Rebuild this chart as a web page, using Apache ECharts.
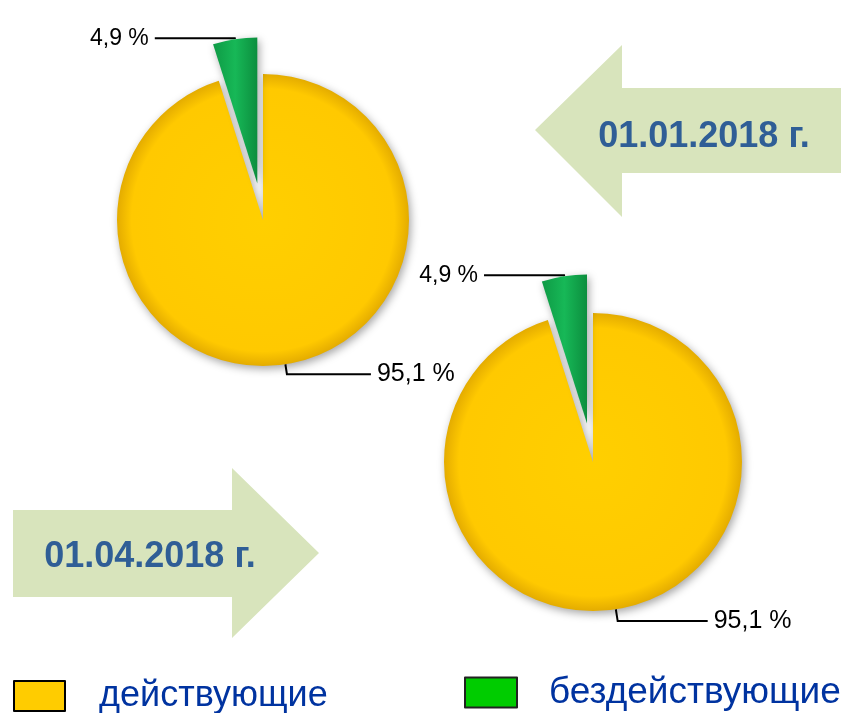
<!DOCTYPE html>
<html>
<head>
<meta charset="utf-8">
<script src="https://cdn.jsdelivr.net/npm/echarts@6/dist/echarts.min.js"></script>
<style>
  html, body { margin: 0; padding: 0; background: #fff; }
  #pieChart { width: 845px; height: 713px; }
</style>
</head>
<body>
<div id="pieChart"></div>
<script>
// категории и доли (%)
const categories = ['действующие', 'бездействующие']
const shareJan = [95.1, 4.9]   // 01.01.2018
const shareApr = [95.1, 4.9]   // 01.04.2018
const dateLabels = ['01.01.2018 г.', '01.04.2018 г.']

const sliceColors = [
  new echarts.graphic.RadialGradient(0.5, 0.5, 0.5, [
    { offset: 0, color: '#FFCF00' },
    { offset: 0.9, color: '#FFC900' },
    { offset: 1, color: '#E4AC00' }
  ]),
  new echarts.graphic.LinearGradient(0, 0, 1, 0, [
    { offset: 0, color: '#0E9A45' },
    { offset: 0.5, color: '#17B857' },
    { offset: 1, color: '#0C8E3E' }
  ])
]
const legendColors = ['#FFCC00', '#00CC00']

const fmt = v => v.toFixed(1).replace('.', ',') + ' %'

// собрать данные для одного пирога
const buildData = (values, lineLen, lineLen2) => values.map((v, i) => ({
  name: categories[i],
  value: v,
  selected: i === 1,
  itemStyle: { color: sliceColors[i] },
  label: { fontSize: i === 1 ? 23 : 25 },
  labelLine: i === 1 ? { length: 1, length2: 80 } : { length: lineLen, length2: lineLen2 }
}))

const pieBase = {
  type: 'pie',
  startAngle: 90,
  clockwise: true,
  selectedMode: 'single',
  avoidLabelOverlap: false,
  emphasis: { disabled: true },
  itemStyle: {
    borderWidth: 0,
    shadowBlur: 8,
    shadowColor: 'rgba(0,0,0,0.35)',
    shadowOffsetX: 2,
    shadowOffsetY: 3
  },
  label: {
    show: true,
    position: 'outside',
    color: '#000',
    fontFamily: 'Liberation Sans',
    formatter: p => fmt(p.value),
    distanceToLabelLine: 6
  },
  labelLine: {
    show: true,
    lineStyle: { color: '#000', width: 2 }
  }
}

const chart = echarts.init(document.getElementById('pieChart'))

const arrowStyle = { fill: '#D8E4BC' }
const dateText = {
  fill: '#2F5E96',
  fontSize: 36,
  fontWeight: 'bold',
  fontFamily: 'Liberation Sans',
  align: 'center',
  verticalAlign: 'middle'
}

const option = {
  animation: false,
  graphic: [
    {
      type: 'polygon',
      shape: { points: [[535, 130], [622, 45], [622, 88], [841, 88], [841, 173], [622, 173], [622, 217]] },
      style: arrowStyle,
      z: 0
    },
    { type: 'text', x: 704, y: 137, style: Object.assign({ text: dateLabels[0] }, dateText), z: 1 },
    {
      type: 'polygon',
      shape: { points: [[13, 510], [232, 510], [232, 468], [319, 553], [232, 638], [232, 597], [13, 597]] },
      style: arrowStyle,
      z: 0
    },
    { type: 'text', x: 150, y: 557, style: Object.assign({ text: dateLabels[1] }, dateText), z: 1 }
  ],
  legend: [
    {
      left: 13,
      top: 678,
      padding: 0,
      data: [{ name: categories[0], itemStyle: { color: legendColors[0] } }],
      icon: 'rect',
      itemWidth: 51,
      itemHeight: 30,
      itemStyle: { borderColor: '#000', borderWidth: 2, shadowBlur: 0 },
      textStyle: { color: '#0033A0', fontSize: 36, fontFamily: 'Liberation Sans', padding: [20, 0, 0, 29] },
      selectedMode: false
    },
    {
      left: 464,
      top: 674,
      padding: 0,
      data: [{ name: categories[1], itemStyle: { color: legendColors[1] } }],
      icon: 'rect',
      itemWidth: 52,
      itemHeight: 30,
      itemStyle: { borderColor: '#222', borderWidth: 2, shadowBlur: 0 },
      textStyle: { color: '#0033A0', fontSize: 37, fontFamily: 'Liberation Sans', padding: [20, 0, 0, 27] },
      selectedMode: false
    }
  ],
  series: [
    Object.assign({}, pieBase, {
      name: dateLabels[0],
      center: [263, 220],
      radius: 146,
      selectedOffset: 37,
      data: buildData(shareJan, 10, 84)
    }),
    Object.assign({}, pieBase, {
      name: dateLabels[1],
      center: [593, 462],
      radius: 149,
      selectedOffset: 39,
      data: buildData(shareApr, 12, 90)
    })
  ]
}

chart.setOption(option)
window.addEventListener('resize', () => {
  chart.resize()
})
</script>
</body>
</html>
